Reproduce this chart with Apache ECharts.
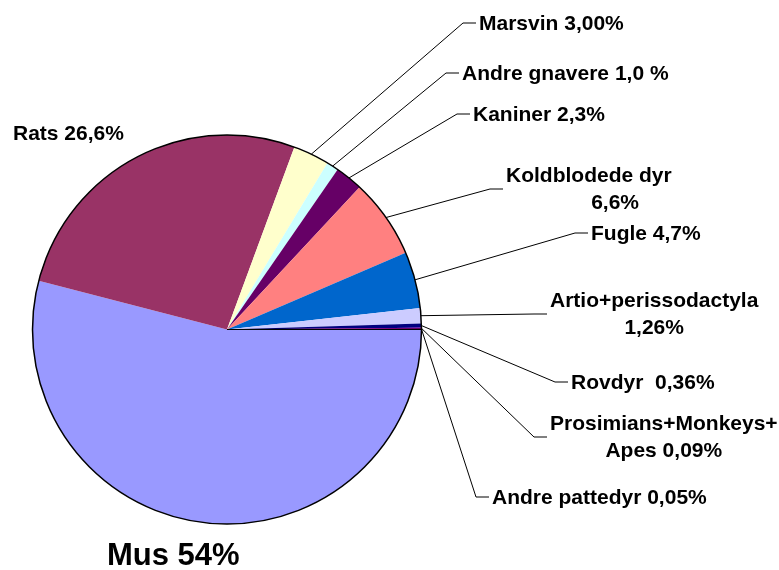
<!DOCTYPE html>
<html>
<head>
<meta charset="utf-8">
<script src="https://cdn.jsdelivr.net/npm/echarts@6/dist/echarts.min.js"></script>
<style>
  html, body { margin: 0; padding: 0; background: #fff; }
  #container { width: 779px; height: 570px; }
</style>
</head>
<body>
<div id="container"></div>
<script>
// data, clockwise from 3 o'clock
var names = ['Mus', 'Rats', 'Marsvin', 'Andre gnavere', 'Kaniner', 'Koldblodede dyr',
  'Fugle', 'Artio+perissodactyla', 'Rovdyr', 'Prosimians+Monkeys+Apes', 'Andre pattedyr'];
var shares = [54, 26.6, 3.0, 1.0, 2.3, 6.6, 4.7, 1.26, 0.36, 0.09, 0.05];
var labels = ['Mus 54%', 'Rats 26,6%', 'Marsvin 3,00%', 'Andre gnavere 1,0 %', 'Kaniner 2,3%',
  'Koldblodede dyr\n         6,6%', 'Fugle 4,7%', 'Artio+perissodactyla\n1,26%', 'Rovdyr  0,36%',
  'Prosimians+Monkeys+\nApes 0,09%', 'Andre pattedyr 0,05%'];
var colors = ['#9999FF', '#993366', '#FFFFCC', '#CCFFFF', '#660066', '#FF8080',
  '#0066CC', '#CCCCFF', '#000080', '#FF00FF', '#FFFF00'];

// where each label block sits: left x, middle y
var labelSpots = [[107, 556], [13, 134], [479, 24], [462, 74], [473, 115], [506, 190],
  [591, 234], [550, 315], [571, 383], [550, 438], [492, 498]];

var chart = echarts.init(document.getElementById('container'));

var pieData = names.map(function (n, i) {
  var item = { name: n, value: shares[i], itemStyle: { color: colors[i] } };
  if (i < 2) item.labelLine = { show: false };
  if (i === 0) item.label = { fontSize: 31 };
  if (i === names.length - 1) item.itemStyle.borderColor = '#000', item.itemStyle.borderWidth = 1;
  return item;
});

chart.setOption({
  backgroundColor: '#fff',
  animation: false,
  series: [{
    type: 'pie',
    center: [227, 329.5],
    radius: 194.5,
    startAngle: 0,
    clockwise: true,
    avoidLabelOverlap: false,
    silent: true,
    data: pieData,
    label: {
      show: true,
      position: 'outside',
      color: '#000',
      fontFamily: 'Liberation Sans, Arial, sans-serif',
      fontWeight: 'bold',
      fontSize: 21,
      lineHeight: 27,
      formatter: function (p) { return labels[p.dataIndex]; }
    },
    labelLine: {
      show: true,
      length: 10,
      length2: 10,
      lineStyle: { color: '#000', width: 1 }
    },
    labelLayout: function (p) {
      var spot = labelSpots[p.dataIndex];
      var out = {
        x: spot[0] + p.labelRect.width / 2,
        y: spot[1],
        align: 'center',
        verticalAlign: 'middle'
      };
      var pts = p.labelLinePoints;
      if (p.dataIndex > 1 && pts) {
        var ex = spot[0] - 3, ey = spot[1] - 1;
        out.labelLinePoints = [pts[0], [ex - 13, ey], [ex, ey]];
      }
      return out;
    }
  }, {
    // outer rim
    type: 'pie',
    center: [227, 329.5],
    radius: 194.5,
    silent: true,
    z: 5,
    label: { show: false },
    labelLine: { show: false },
    itemStyle: { color: 'rgba(0,0,0,0)', borderColor: '#000', borderWidth: 1.5 },
    data: [{ value: 1, name: 'rim' }]
  }]
});
</script>
</body>
</html>
